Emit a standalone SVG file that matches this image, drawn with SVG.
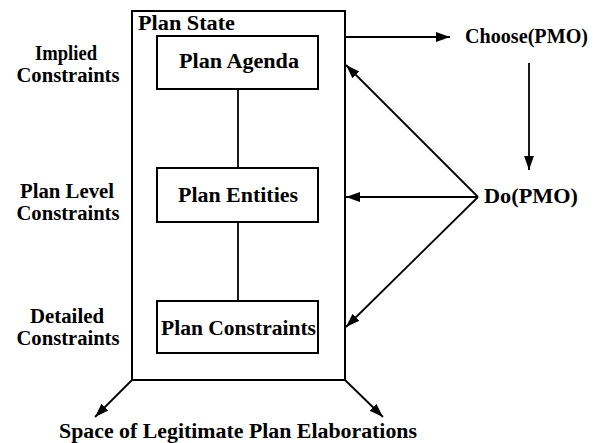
<svg xmlns="http://www.w3.org/2000/svg" width="607" height="443" viewBox="0 0 607 443">
<style>
text{font-family:"Liberation Serif","Times New Roman",serif;font-weight:bold;fill:#000;font-size:20.5px}
.box{fill:#fff;stroke:#000;stroke-width:2}
.ln{stroke:#000;stroke-width:1.8;fill:none}
.mid{text-anchor:middle}
</style>
<defs>
<marker id="ah" viewBox="0 0 10 10" refX="10" refY="5" markerWidth="14" markerHeight="14" markerUnits="userSpaceOnUse" orient="auto">
<path d="M0,1.5 L10,5 L0,8.5 Z" fill="#000"/>
</marker>
</defs>
<rect width="607" height="443" fill="#fff"/>
<g id="plan-state">
<rect class="box" x="132" y="11" width="213" height="369"/>
<text x="138" y="30" font-size="18" textLength="97" lengthAdjust="spacingAndGlyphs">Plan State</text>
</g>
<g id="connectors">
<line class="ln" x1="238" y1="89" x2="238" y2="168"/>
<line class="ln" x1="238" y1="222" x2="238" y2="301"/>
<line class="ln" x1="345" y1="37" x2="450" y2="37" marker-end="url(#ah)"/>
<line class="ln" x1="529" y1="63" x2="529" y2="170" marker-end="url(#ah)"/>
<line class="ln" x1="478" y1="197" x2="346" y2="197" marker-end="url(#ah)"/>
<line class="ln" x1="478" y1="197" x2="346" y2="65" marker-end="url(#ah)"/>
<line class="ln" x1="478" y1="197" x2="346" y2="327" marker-end="url(#ah)"/>
<line class="ln" x1="132" y1="380" x2="95" y2="417" marker-end="url(#ah)"/>
<line class="ln" x1="345" y1="380" x2="383" y2="417" marker-end="url(#ah)"/>
</g>
<g id="plan-agenda">
<rect class="box" x="157" y="36" width="161" height="53"/>
<text x="179" y="68" textLength="120" lengthAdjust="spacingAndGlyphs">Plan Agenda</text>
</g>
<g id="plan-entities">
<rect class="box" x="157" y="168" width="161" height="54"/>
<text x="178" y="202" textLength="120" lengthAdjust="spacingAndGlyphs">Plan Entities</text>
</g>
<g id="plan-constraints">
<rect class="box" x="157" y="301" width="161" height="52"/>
<text x="161" y="335" textLength="155" lengthAdjust="spacingAndGlyphs">Plan Constraints</text>
</g>
<g id="choose">
<text x="465" y="43" textLength="123" lengthAdjust="spacingAndGlyphs">Choose(PMO)</text>
</g>
<g id="do">
<text x="484" y="203" textLength="94" lengthAdjust="spacingAndGlyphs">Do(PMO)</text>
</g>
<g id="implied">
<text class="mid" x="66" y="60" textLength="62" lengthAdjust="spacingAndGlyphs">Implied</text>
<text class="mid" x="68" y="82" textLength="103" lengthAdjust="spacingAndGlyphs">Constraints</text>
</g>
<g id="plan-level">
<text class="mid" x="67" y="198" textLength="94" lengthAdjust="spacingAndGlyphs">Plan Level</text>
<text class="mid" x="68" y="220" textLength="103" lengthAdjust="spacingAndGlyphs">Constraints</text>
</g>
<g id="detailed">
<text class="mid" x="67" y="323" textLength="74" lengthAdjust="spacingAndGlyphs">Detailed</text>
<text class="mid" x="68" y="345" textLength="103" lengthAdjust="spacingAndGlyphs">Constraints</text>
</g>
<g id="space">
<text x="59" y="438" textLength="358" lengthAdjust="spacingAndGlyphs">Space of Legitimate Plan Elaborations</text>
</g>
</svg>
